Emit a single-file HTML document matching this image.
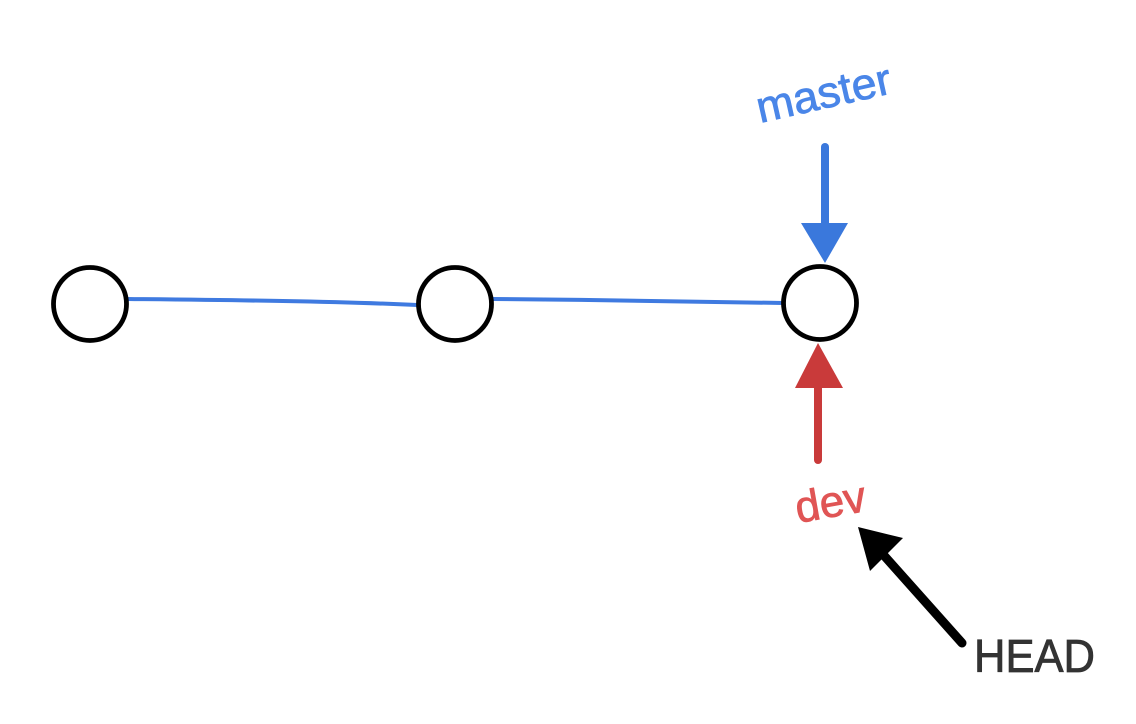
<!DOCTYPE html>
<html>
<head>
<meta charset="utf-8">
<style>
html,body{margin:0;padding:0;background:#fff;}
body{width:1136px;height:724px;overflow:hidden;}
svg{display:block;}
</style>
</head>
<body>
<svg width="1136" height="724" viewBox="0 0 1136 724" xmlns="http://www.w3.org/2000/svg">
  <rect width="1136" height="724" fill="#fff"/>
  <!-- blue connecting lines -->
  <path d="M128 299 C 220 300, 330 301, 417 305" stroke="#3f7ae0" stroke-width="4" fill="none" stroke-linecap="round"/>
  <path d="M493 299 C 590 300, 690 301, 783 303" stroke="#3f7ae0" stroke-width="4" fill="none" stroke-linecap="round"/>
  <!-- circles -->
  <circle cx="90" cy="304" r="36.5" fill="#fff" stroke="#000" stroke-width="4.8"/>
  <circle cx="455" cy="304" r="36.5" fill="#fff" stroke="#000" stroke-width="4.8"/>
  <circle cx="820" cy="303" r="36.5" fill="#fff" stroke="#000" stroke-width="4.8"/>
  <!-- master arrow -->
  <line x1="825" y1="147" x2="825" y2="235" stroke="#3a78dc" stroke-width="8" stroke-linecap="round"/>
  <polygon points="801,223 848,223 825,263" fill="#3a78dc"/>
  <text x="760" y="123" transform="rotate(-12.7 760 123)" font-family="'Liberation Sans', 'DejaVu Sans', sans-serif" font-size="44" fill="#4a86e8" stroke="#4a86e8" stroke-width="0.8" textLength="137" lengthAdjust="spacingAndGlyphs">master</text>
  <!-- dev arrow -->
  <line x1="818" y1="460" x2="818" y2="375" stroke="#c93a3a" stroke-width="8" stroke-linecap="round"/>
  <polygon points="795,388 843,388 818,343" fill="#c93a3a"/>
  <text x="798" y="523" transform="rotate(-10 798 523)" font-family="'Liberation Sans', 'DejaVu Sans', sans-serif" font-size="44" fill="#e05555" stroke="#e05555" stroke-width="0.8" textLength="71" lengthAdjust="spacingAndGlyphs">dev</text>
  <!-- HEAD arrow -->
  <line x1="962" y1="643" x2="880" y2="551" stroke="#000" stroke-width="9" stroke-linecap="round"/>
  <polygon points="858,527 903,538 870,571" fill="#000"/>
  <text x="974" y="672" font-family="'Liberation Sans', 'DejaVu Sans', sans-serif" font-size="46" fill="#333" stroke="#333" stroke-width="0.8" textLength="121" lengthAdjust="spacingAndGlyphs">HEAD</text>
</svg>
</body>
</html>
